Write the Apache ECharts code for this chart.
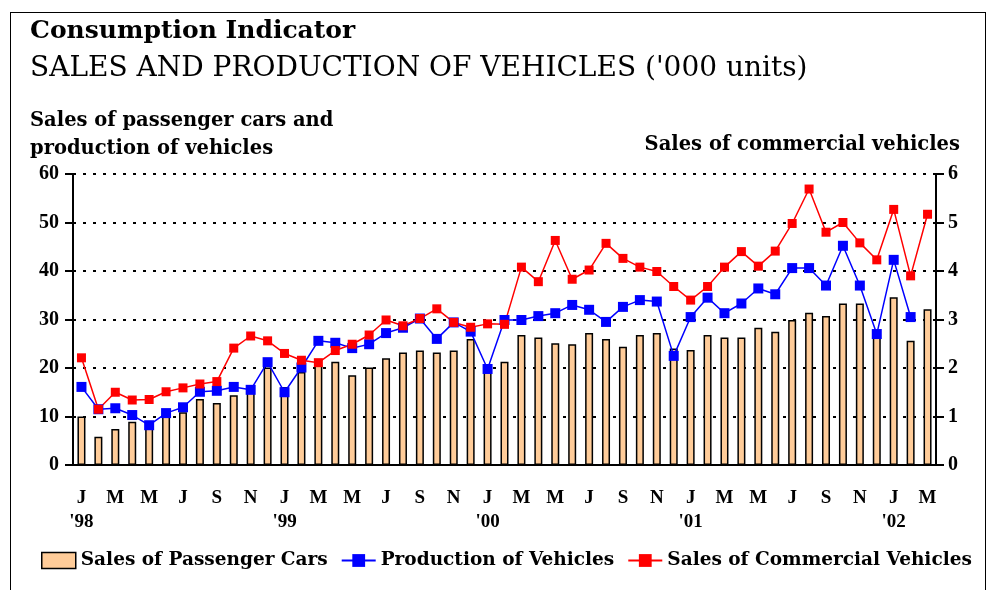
<!DOCTYPE html>
<html>
<head>
<meta charset="utf-8">
<script src="https://cdn.jsdelivr.net/npm/echarts@6/dist/echarts.min.js"></script>
<style>
  html, body { margin: 0; padding: 0; background: #fff; }
  #frame { position: absolute; left: 10px; top: 12px; width: 976px; height: 600px; border: 1px solid #000; box-sizing: border-box; }
  #chart { width: 991px; height: 590px; position: absolute; left: 0; top: 0; }
</style>
</head>
<body>
<div id="frame"></div>
<div id="chart"></div>
<script>
  // monthly, Jan 1998 .. Mar 2002
  var months = ['J', 'F', 'M', 'A', 'M', 'J', 'J', 'A', 'S', 'O', 'N', 'D']
  var years = ['98', '99', '00', '01', '02']
  var categories = []
  for (var y = 0; y < years.length; y++) {
    for (var m = 0; m < 12; m++) {
      if (y === 4 && m > 2) break
      categories.push(m === 0 ? months[m] + "\n'" + years[y] : months[m])
    }
  }

  // sales of passenger cars ('000 units, left axis)
  var carSales = [10.0, 5.8, 7.4, 8.9, 8.0, 10.0, 10.9, 13.6, 12.8, 14.4,
    15.5, 20.1, 16.1, 19.2, 20.6, 21.3, 18.5, 20.1, 22.0, 23.2,
    23.6, 23.2, 23.6, 26.0, 19.5, 21.3, 26.8, 26.3, 25.1, 24.9,
    27.2, 26.0, 24.4, 26.8, 27.2, 24.0, 23.7, 26.8, 26.3, 26.3,
    28.3, 27.5, 29.9, 31.4, 30.7, 33.3, 33.3, 27.0, 34.6, 25.6, 32.1]

  // production of vehicles (left axis)
  var production = [16.1, 11.5, 11.7, 10.3, 8.2, 10.7, 11.9, 15.1, 15.3, 16.1,
    15.5, 21.2, 15.0, 20.1, 25.6, 25.2, 24.1, 24.9, 27.2, 28.3,
    30.2, 26.0, 29.4, 27.5, 19.8, 29.9, 29.9, 30.7, 31.3, 33.0,
    32.0, 29.5, 32.6, 34.0, 33.7, 22.5, 30.5, 34.5, 31.3, 33.3,
    36.4, 35.2, 40.6, 40.6, 37.0, 45.2, 37.0, 27.0, 42.3, 30.5, null]

  // sales of commercial vehicles (right axis)
  var commSales = [2.21, 1.15, 1.50, 1.34, 1.35, 1.51, 1.59, 1.67, 1.72, 2.41,
    2.66, 2.56, 2.30, 2.16, 2.11, 2.36, 2.49, 2.68, 2.99, 2.87,
    3.02, 3.22, 2.94, 2.84, 2.91, 2.90, 4.08, 3.78, 4.63, 3.83,
    4.02, 4.57, 4.26, 4.08, 3.99, 3.68, 3.40, 3.68, 4.08, 4.40,
    4.10, 4.41, 4.98, 5.69, 4.80, 5.00, 4.58, 4.23, 5.27, 3.90, 5.17]

  var serif = '"Liberation Serif", "DejaVu Serif", serif'
  var wide = '"DejaVu Serif", serif'

  var chart = echarts.init(document.getElementById('chart'))
  chart.setOption({
    animation: false,
    textStyle: {fontFamily: serif},
    graphic: [
      {type: 'text', left: 30, top: 19, style: {text: 'Consumption Indicator', font: 'bold 25px ' + wide, fill: '#000'}},
      {type: 'text', left: 30, top: 55, style: {text: "SALES AND PRODUCTION OF VEHICLES ('000 units)", font: '28px ' + wide, fill: '#000'}},
      {type: 'text', left: 30, top: 107, style: {text: 'Sales of passenger cars and\nproduction of vehicles', font: 'bold 19.5px ' + wide, lineHeight: 28, fill: '#000'}},
      {type: 'text', right: 31, top: 135, style: {text: 'Sales of commercial vehicles', font: 'bold 19.5px ' + wide, fill: '#000'}}
    ],
    grid: {
      left: 73,
      right: 55,
      top: 174,
      bottom: 125
    },
    legend: {
      left: 36,
      top: 546,
      itemGap: 13,
      itemWidth: 34,
      itemHeight: 16,
      textStyle: {fontFamily: wide, fontWeight: 'bold', fontSize: 18.5, color: '#000'},
      data: [
        {name: 'Sales of Passenger Cars', icon: 'rect', itemStyle: {color: '#FFCC99', borderColor: '#000', borderWidth: 1.5}},
        {name: 'Production of Vehicles'},
        {name: 'Sales of Commercial Vehicles'}
      ]
    },
    xAxis: {
      type: 'category',
      data: categories,
      axisLine: {lineStyle: {color: '#000', width: 2}},
      axisTick: {lineStyle: {color: '#000'}, length: 5},
      axisLabel: {
        interval: 1,
        color: '#000',
        fontWeight: 'bold',
        fontSize: 19,
        lineHeight: 24,
        margin: 21
      }
    },
    yAxis: [
      {
        type: 'value',
        min: 0,
        max: 60,
        interval: 10,
        axisLine: {show: true, lineStyle: {color: '#000', width: 2}},
        axisTick: {show: true, length: 8, lineStyle: {color: '#000', width: 2}},
        axisLabel: {color: '#000', fontWeight: 'bold', fontSize: 20, margin: 14},
        splitLine: {lineStyle: {color: '#000', type: [3, 7], width: 2}}
      },
      {
        type: 'value',
        min: 0,
        max: 6,
        interval: 1,
        axisLine: {show: true, lineStyle: {color: '#000', width: 2}},
        axisTick: {show: true, length: 8, lineStyle: {color: '#000', width: 2}},
        axisLabel: {color: '#000', fontWeight: 'bold', fontSize: 20, margin: 12},
        splitLine: {show: false}
      }
    ],
    series: [
      {
        name: 'Sales of Passenger Cars',
        type: 'bar',
        data: carSales,
        barWidth: 8,
        itemStyle: {color: '#FFCC99', borderColor: '#000', borderWidth: 1.5}
      },
      {
        name: 'Production of Vehicles',
        type: 'line',
        data: production,
        symbol: 'rect',
        symbolSize: 10,
        lineStyle: {color: '#0000FF', width: 1.5},
        itemStyle: {color: '#0000FF'}
      },
      {
        name: 'Sales of Commercial Vehicles',
        type: 'line',
        yAxisIndex: 1,
        data: commSales,
        symbol: 'rect',
        symbolSize: 9,
        lineStyle: {color: '#FF0000', width: 1.5},
        itemStyle: {color: '#FF0000'}
      }
    ]
  })
</script>
</body>
</html>
